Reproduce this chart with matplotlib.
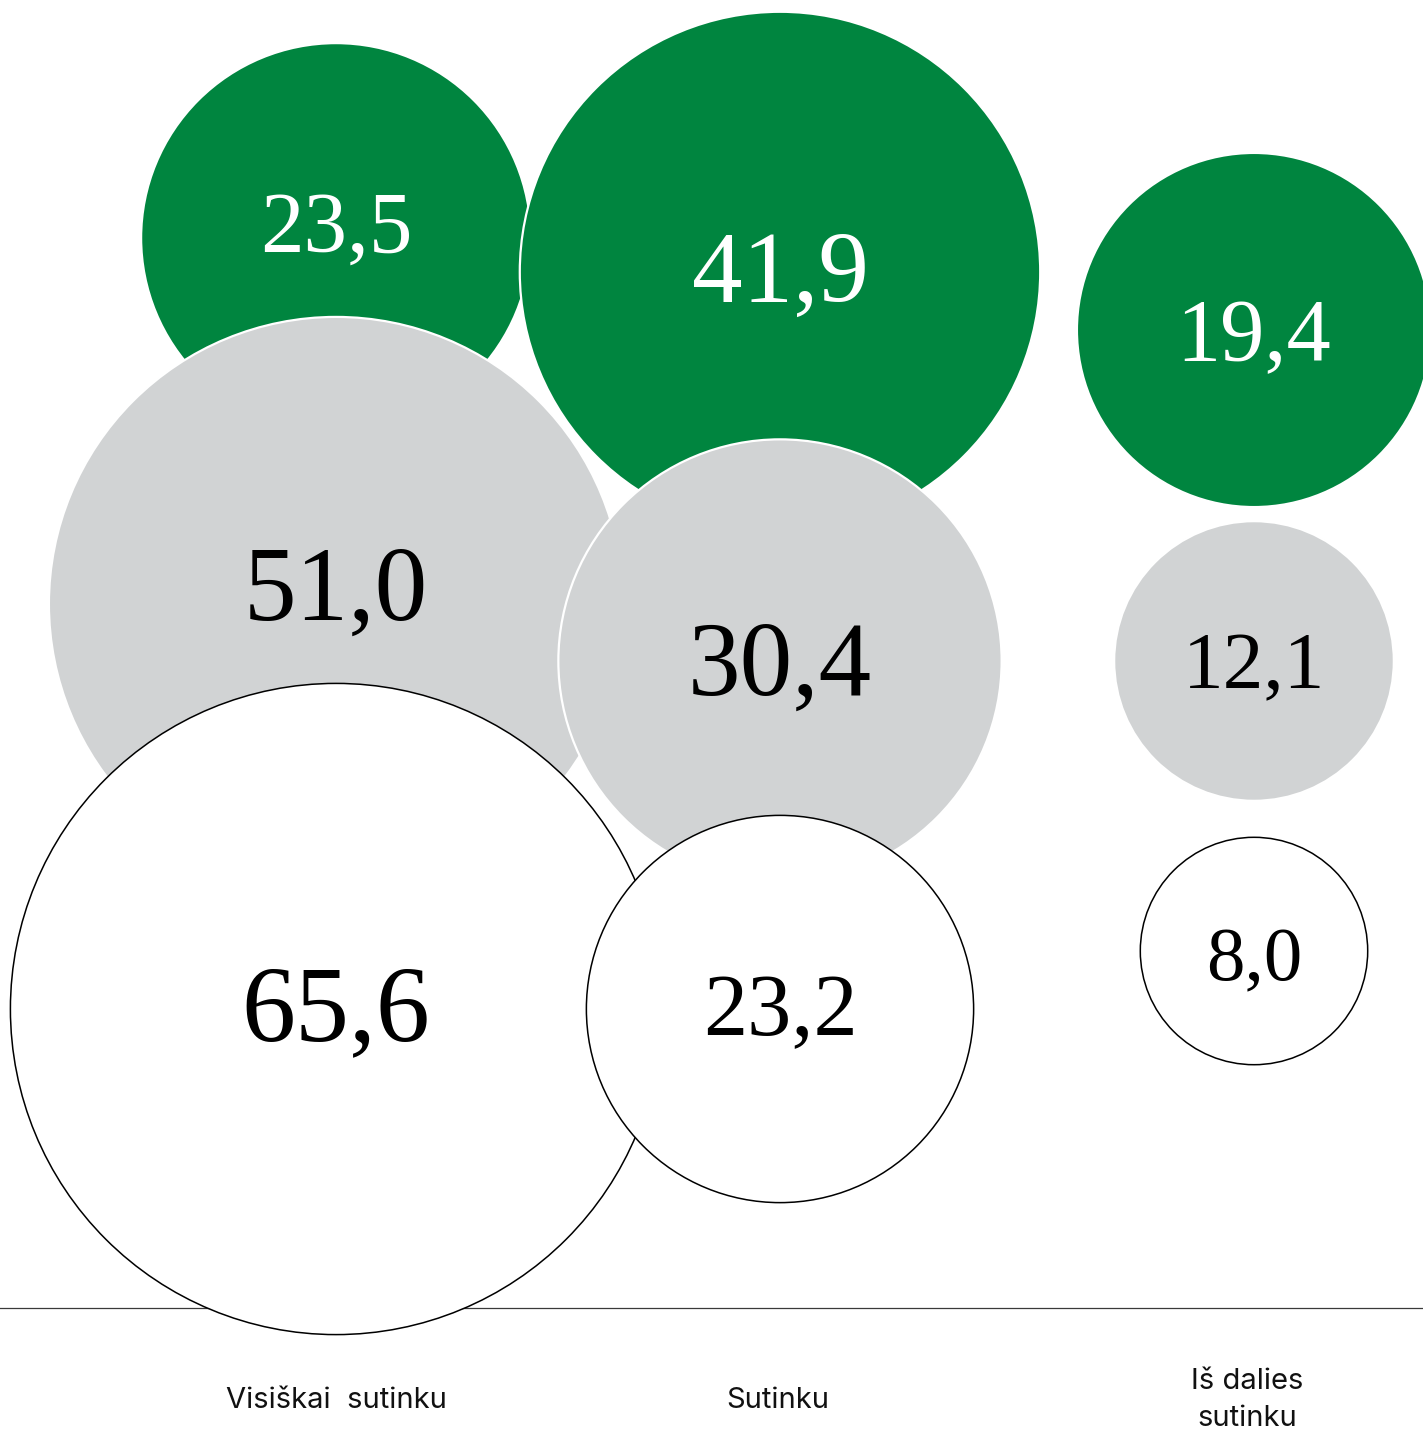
import matplotlib
matplotlib.use("Agg")
import matplotlib.pyplot as plt
from matplotlib.patches import Circle
import numpy as np

# ---------------- data ----------------
categories = ["Visiškai  sutinku", "Sutinku", "Iš dalies\nsutinku"]
green_values = [23.5, 41.9, 19.4]
gray_values = [51.0, 30.4, 12.1]
white_values = [65.6, 23.2, 8.0]

# ---------------- layout (pixels) ----------------
W, H = 1423, 1432
col_x = [336, 780, 1254]
row_y = {
    "green": [238, 272, 330],
    "gray": [604, 661, 661],
    "white": [1009, 1009, 951],
}
# baseline of number relative to circle centre, and digit height (px)
text_base = {
    "green": [14, 30, 30],
    "gray": [16, 34, 27],
    "white": [31, 26, 29],
}
digit_h = {
    "green": [62, 72, 63],
    "gray": [75, 75, 58],
    "white": [77, 63, 55],
}
R_SCALE = 40.2          # px per sqrt(value)
axis_y = 1308
label_x = [336, 778, 1247]
label_y = 1400

styles = {
    "green": dict(face="#00853F", edge="white", lw=1.6, text="white"),
    "gray": dict(face="#D1D3D4", edge="white", lw=1.6, text="black"),
    "white": dict(face="white", edge="black", lw=1.1, text="black"),
}
series = [("green", green_values), ("gray", gray_values), ("white", white_values)]

fig = plt.figure(figsize=(W / 100, H / 100), dpi=100)
ax = fig.add_axes([0, 0, 1, 1])
ax.set_xlim(0, W)
ax.set_ylim(H, 0)
ax.set_aspect("equal")
ax.axis("off")

ax.plot([0, W], [axis_y, axis_y], color="#3a3a3a", lw=0.9, zorder=0)

z = 1
for name, vals in series:
    st = styles[name]
    for i, v in enumerate(vals):
        cx, cy = col_x[i], row_y[name][i]
        r = R_SCALE * np.sqrt(v)
        ax.add_patch(Circle((cx, cy), r, facecolor=st["face"], edgecolor=st["edge"],
                            lw=st["lw"], zorder=z))
        fs = digit_h[name][i] * 1.01
        ax.text(cx, cy + text_base[name][i], f"{v:.1f}".replace(".", ","),
                ha="center", va="baseline", fontsize=fs, color=st["text"],
                family="Liberation Serif", zorder=z + 0.5)
        z += 1

for i, lab in enumerate(categories):
    ax.text(label_x[i], label_y, lab, ha="center", va="center", fontsize=21,
            family="Inter", color="#111111", linespacing=1.52)

fig.savefig("out.png", dpi=100)
